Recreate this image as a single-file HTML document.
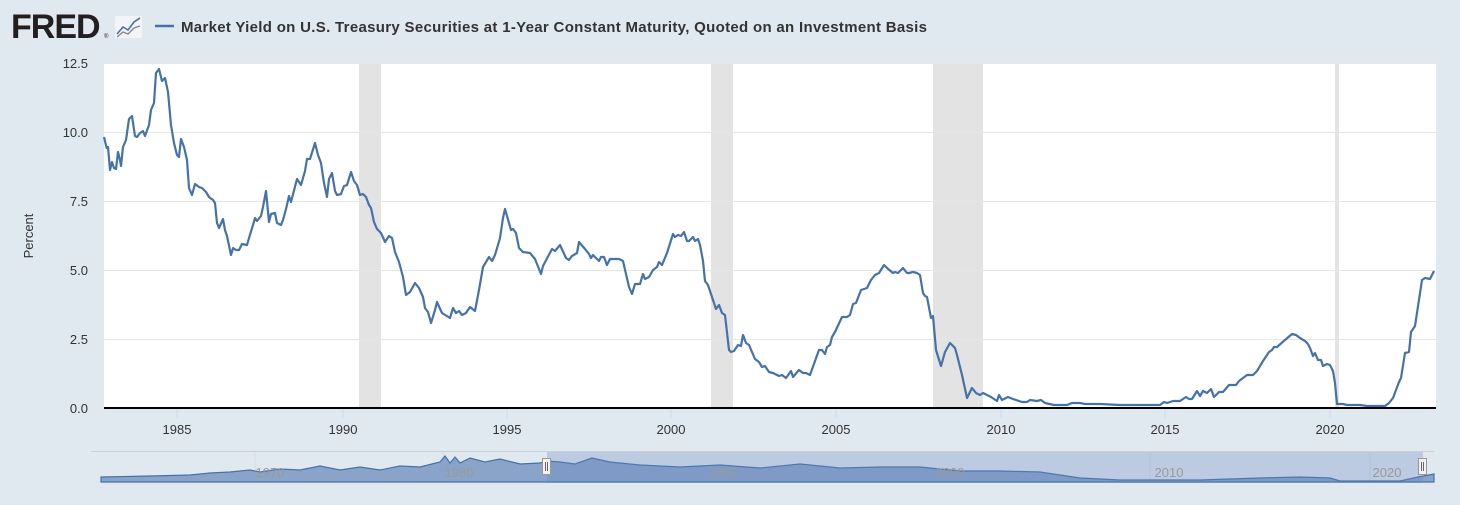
<!DOCTYPE html>
<html><head><meta charset="utf-8"><style>
body{margin:0;width:1460px;height:500px;background:#e1e9f0;font-family:"Liberation Sans",sans-serif;overflow:hidden}
</style></head><body>
<svg width="1460" height="500" xmlns="http://www.w3.org/2000/svg" font-family="Liberation Sans, sans-serif">
<rect width="1460" height="500" fill="#e1e9f0"/>
<text x="11" y="38" font-size="34" font-weight="bold" fill="#231f20" letter-spacing="-1">FRED</text>
<text x="104" y="38" font-size="6" fill="#231f20">®</text>
<rect x="115" y="16" width="27" height="22" fill="#f2f4f7"/>
<polyline points="117,34 123,27 128,30 134,22 140,18" fill="none" stroke="#4572a7" stroke-width="1.6"/>
<polyline points="117,37 123,32 128,34 134,28 140,26" fill="none" stroke="#888" stroke-width="1.4"/>
<line x1="155" y1="26" x2="174" y2="26" stroke="#4572a7" stroke-width="2.5"/>
<text x="181" y="32" font-size="15" font-weight="bold" fill="#333" textLength="746" lengthAdjust="spacing">Market Yield on U.S. Treasury Securities at 1-Year Constant Maturity, Quoted on an Investment Basis</text>
<rect x="104" y="63" width="1332" height="345" fill="#fff"/>
<g fill="#e3e3e3">
<rect x="359" y="63" width="22" height="345"/><rect x="711" y="63" width="22" height="345"/>
<rect x="933" y="63" width="50" height="345"/><rect x="1335" y="63" width="4" height="345"/>
</g>
<g stroke="#e6e6e6" stroke-width="1">
<line x1="104" y1="63.5" x2="1436" y2="63.5"/><line x1="104" y1="132.5" x2="1436" y2="132.5"/>
<line x1="104" y1="201.5" x2="1436" y2="201.5"/><line x1="104" y1="270.5" x2="1436" y2="270.5"/>
<line x1="104" y1="339.5" x2="1436" y2="339.5"/>
</g>
<g font-size="13" fill="#333" text-anchor="end">
<text x="88" y="68">12.5</text><text x="88" y="137">10.0</text><text x="88" y="206">7.5</text>
<text x="88" y="275">5.0</text><text x="88" y="344">2.5</text><text x="88" y="413">0.0</text>
</g>
<text x="33" y="236" font-size="13" fill="#333" text-anchor="middle" transform="rotate(-90 33 236)">Percent</text>
<g stroke="#ccd6eb" stroke-width="1">
<line x1="177" y1="409" x2="177" y2="418"/><line x1="343" y1="409" x2="343" y2="418"/><line x1="507" y1="409" x2="507" y2="418"/>
<line x1="671" y1="409" x2="671" y2="418"/><line x1="836" y1="409" x2="836" y2="418"/><line x1="1001" y1="409" x2="1001" y2="418"/>
<line x1="1165" y1="409" x2="1165" y2="418"/><line x1="1330" y1="409" x2="1330" y2="418"/>
</g>
<g font-size="13" fill="#333" text-anchor="middle">
<text x="177" y="434">1985</text><text x="343" y="434">1990</text><text x="507" y="434">1995</text><text x="671" y="434">2000</text>
<text x="836" y="434">2005</text><text x="1001" y="434">2010</text><text x="1165" y="434">2015</text><text x="1330" y="434">2020</text>
</g>
<polyline fill="none" stroke="#4572a7" stroke-width="2.2" stroke-linejoin="round" points="104,137 106.7,148 108,147 110,170 112,162 114,168 116,169 118,152 120,160 121,166 123,147 126,140 129,119 132,116 135,136 137,137 140,133 143,131 145,136 149,125 151,110 154,103 156,73 159,69 162,81 165,78 168,92 171,125 174,143 177,155 179,157 181,139 184,147 187,160 189,188 192,195 195,184 199,187 202,188 206,192 209,197 213,200 215,203 217,223 219,228 223,219 225,230 227,236 231,255 233,248 236,250 239,250 242,244 247,245 249,238 253,225 255,218 257,221 261,216 263,207 266,191 269,222 271,214 275,213 277,223 281,225 283,220 286,209 289,196 291,202 297,179 301,185 305,171 307,159 310,159 315,143 318,155 321,163 324,183 327,197 329,179 332,173 335,191 337,195 341,194 344,186 347,185 351,172 354,181 357,185 360,195 363,194 366,197 369,205 371,208 374,222 377,229 381,233 385,242 389,236 392,238 395,252 399,262 403,277 406,295 410,292 415,283 419,288 423,297 425,308 428,312 431,323 435,310 437,302 442,313 450,318 453,308 456,313 459,311 462,315 466,313 470,307 475,311 479,290 483,267 489,257 492,261 495,255 500,238 503,218 505,209 511,230 513,229 516,233 519,248 523,252 530,253 535,259 541,274 543,266 552,249 555,251 560,245 566,258 569,260 572,256 577,253 579,242 585,249 589,254 591,258 593,255 599,261 601,257 604,257 607,265 610,259 619,259 623,261 629,287 632,294 635,284 640,284 643,274 645,279 649,277 653,270 657,267 659,262 662,265 667,253 673,234 675,237 678,235 681,236 684,232 687,241 689,241 693,237 695,241 698,239 700,245 703,261 705,281 708,285 712,297 716,309 719,305 722,313 725,315 729,350 731,352 734,351 738,345 741,346 743,335 746,343 749,345 752,352 755,359 759,362 762,367 765,366 769,372 773,373 779,376 782,375 786,378 791,371 793,377 799,370 803,373 806,373 810,375 815,361 819,350 822,350 825,354 827,347 830,345 832,337 835,332 842,317 847,317 850,315 853,304 856,303 861,290 867,288 871,280 875,275 879,273 884,265 887,268 893,273 895,272 898,273 903,268 907,273 909,273 913,272 917,273 920,275 923,293 925,296 927,297 931,318 933,316 936,350 941,366 945,352 950,343 955,348 957,355 962,375 967,398 972,388 976,393 980,395 983,393 991,397 997,401 999,395 1002,400 1008,397 1013,399 1022,402 1027,402 1030,400 1037,401 1041,400 1045,403 1054,405 1067,405 1072,403 1080,403 1085,404 1100,404 1120,405 1160,405 1164,402 1167,403 1173,401 1180,401 1186,397 1189,399 1192,399 1197,391 1200,396 1203,391 1207,393 1211,389 1214,397 1219,392 1223,392 1229,385 1233,385 1236,385 1239,381 1247,375 1253,375 1257,371 1263,361 1269,352 1272,350 1274,347 1277,347 1285,340 1292,334 1296,335 1300,338 1305,341 1308,344 1310,348 1313,356 1315,353 1318,360 1321,360 1323,366 1327,364 1330,365 1333,371 1335,383 1337,404 1343,404 1347,405 1360,405 1367,406 1377,406 1385,406 1389,403 1393,398 1399,382 1401,378 1405,353 1409,352 1411,332 1415,326 1422,280 1425,278 1430,279 1434,271"/>
<line x1="104" y1="408" x2="1436" y2="408" stroke="#000" stroke-width="2"/>
<line x1="91" y1="451.5" x2="1434" y2="451.5" stroke="#ccd0d6" stroke-width="1"/>
<g stroke="#d6dce4"><line x1="255" y1="452" x2="255" y2="482"/><line x1="443" y1="452" x2="443" y2="482"/><line x1="1150" y1="452" x2="1150" y2="482"/><line x1="1370" y1="452" x2="1370" y2="482"/></g>
<path d="M101,477 L150,476 L190,475 L210,473 L230,472 L250,470 L260,472 L280,469 L300,470 L320,466 L340,470 L360,467 L380,470 L400,466 L420,467 L440,462 L445,456 L450,463 L455,457 L460,463 L470,458 L485,462 L500,459 L520,464 L540,463 L547,461 L560,462 L575,464 L592,458 L610,462 L640,465 L680,467 L720,465 L760,468 L800,464 L840,468 L880,467 L920,467 L960,471 L1000,471 L1040,472 L1060,475 L1080,478 L1120,480 L1200,480 L1260,478 L1300,477 L1330,478 L1340,481 L1400,481 L1418,477 L1434,474 L1434,482 L101,482 Z" fill="#8aa4c9" stroke="#4572a7" stroke-width="1.2"/>
<rect x="547" y="452" width="876" height="31" fill="rgba(102,133,194,0.3)"/>
<g font-size="13" fill="#999" text-anchor="middle">
<text x="270" y="477">1970</text><text x="459" y="477">1980</text><text x="723" y="477">1990</text><text x="950" y="477">2000</text><text x="1169" y="477">2010</text><text x="1387" y="477">2020</text>
</g>
<g fill="#f2f2f2" stroke="#999"><rect x="542.5" y="458.5" width="8" height="16"/><rect x="1418.5" y="458.5" width="8" height="16"/></g>
<g stroke="#666"><line x1="545.5" y1="462" x2="545.5" y2="471"/><line x1="547.5" y1="462" x2="547.5" y2="471"/><line x1="1421.5" y1="462" x2="1421.5" y2="471"/><line x1="1423.5" y1="462" x2="1423.5" y2="471"/></g>
</svg>
</body></html>
